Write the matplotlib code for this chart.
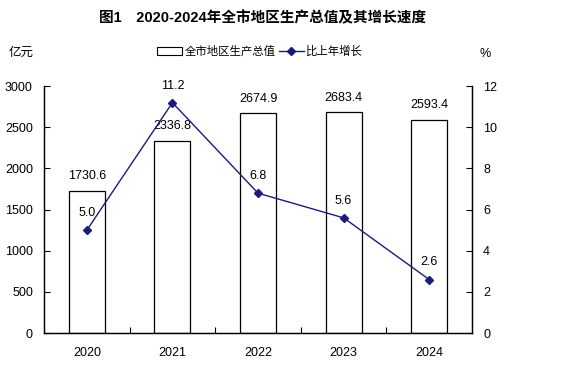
import matplotlib
matplotlib.use("Agg")
import matplotlib.pyplot as plt
from matplotlib.patches import Patch
from matplotlib.lines import Line2D
from matplotlib.ticker import FixedLocator

plt.rcParams['font.family'] = ['Liberation Sans', 'Noto Sans CJK SC', 'DejaVu Sans']

# ---- 数据 ----
years = ['2020', '2021', '2022', '2023', '2024']
gdp = [1730.6, 2336.8, 2674.9, 2683.4, 2593.4]       # 亿元
growth = [5.0, 11.2, 6.8, 5.6, 2.6]                  # %

line_color = '#1c1a7c'

fig = plt.figure(figsize=(5.68, 3.9), dpi=100)
ax = fig.add_axes([0.0775, 0.146, 0.7535, 0.633])
ax2 = ax.twinx()

x = list(range(len(years)))
ax.bar(x, gdp, width=0.42, color='white', edgecolor='black', linewidth=0.9, zorder=2)
ax2.plot(x, growth, color=line_color, linewidth=1.0, marker='D', markersize=4, zorder=3)

# 数据标签
for xi, v in zip(x, gdp):
    ax.annotate(f"{v:.1f}", (xi, v), xytext=(0, 6), textcoords='offset points',
                ha='center', va='bottom', fontsize=9)
for xi, v in zip(x, growth):
    ax2.annotate(f"{v:.1f}", (xi, v), xytext=(0, 8), textcoords='offset points',
                 ha='center', va='bottom', fontsize=9)

# 坐标轴
ax.set_xlim(-0.5, 4.5)
ax.set_ylim(0, 3000)
ax.set_yticks(range(0, 3001, 500))
ax2.set_ylim(0, 12)
ax2.set_yticks(range(0, 13, 2))
ax.set_xticks(x)
ax.set_xticklabels(years)
ax.xaxis.set_minor_locator(FixedLocator([0.5, 1.5, 2.5, 3.5]))
ax.tick_params(axis='x', which='major', length=0, pad=10, labelsize=9)
ax.tick_params(axis='x', which='minor', direction='in', length=4, width=0.8)
ax.tick_params(axis='y', direction='in', length=4, width=0.8, labelsize=9, pad=8)
ax2.tick_params(axis='y', direction='in', length=4, width=0.8, labelsize=9, pad=8)

for a in (ax, ax2):
    a.spines['top'].set_visible(False)
    for s in ('left', 'right', 'bottom'):
        a.spines[s].set_linewidth(0.9)

# 标题与单位
fig.text(0.463, 0.953, "图1　2020-2024年全市地区生产总值及其增长速度",
         ha='center', va='center', fontsize=10.5, fontweight='bold')
fig.text(0.015, 0.865, "亿元", ha='left', va='center', fontsize=9)
fig.text(0.845, 0.862, "%", ha='left', va='center', fontsize=9)

handles = [Patch(facecolor='white', edgecolor='black', linewidth=0.8),
           Line2D([0], [0], color=line_color, linewidth=1.0, marker='D', markersize=4)]
fig.legend(handles, ['全市地区生产总值', '比上年增长'], loc='center',
           bbox_to_anchor=(0.458, 0.868), ncol=2, frameon=False, fontsize=8.2,
           handlelength=2.2, handletextpad=0.2, columnspacing=0.3)

fig.savefig("out.png", dpi=100)
